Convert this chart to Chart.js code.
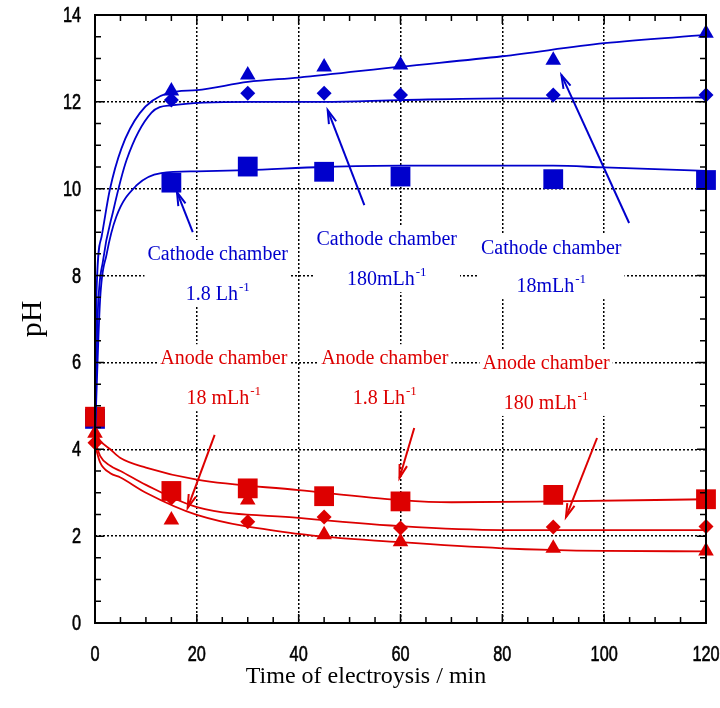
<!DOCTYPE html>
<html>
<head>
<meta charset="utf-8">
<title>pH vs time of electrolysis</title>
<script src="https://cdn.jsdelivr.net/npm/chart.js@4.4.1/dist/chart.umd.min.js"></script>
<style>
  html, body { margin: 0; padding: 0; background: #fff; }
  #wrap { width: 720px; height: 708px; }
</style>
</head>
<body>
<div id="wrap"><canvas id="phChart"></canvas></div>
<script>
// measured points (min, pH)
const sampleTimes = [0, 15, 30, 45, 60, 90, 120];
const cathodeTri = [4.7, 12.25, 12.62, 12.8, 12.85, 12.96, 13.58];
const cathodeDia = [4.7, 12.04, 12.2, 12.2, 12.16, 12.16, 12.16];
const cathodeSq  = [4.7, 10.14, 10.51, 10.39, 10.28, 10.22, 10.2];
const anodeSq    = [4.75, 3.04, 3.1, 2.92, 2.8, 2.95, 2.85];
const anodeDia   = [4.15, 2.88, 2.33, 2.44, 2.19, 2.21, 2.22];
const anodeTri   = [4.37, 2.37, 2.83, 2.03, 1.87, 1.72, 1.66];

// fitted curves
const cathodeTriFitT = [0, 0.3, 1.3, 2.9, 5.2, 8.8, 14.3, 20, 30, 40, 60, 80, 100, 120];
const cathodeTriFit  = [4.4, 7.6, 8.9, 9.97, 10.93, 11.74, 12.2, 12.27, 12.46, 12.56, 12.81, 13.05, 13.35, 13.54];
const cathodeDiaFitT = [0, 0.5, 1.6, 3.6, 6.2, 11.1, 15, 30, 45, 60, 80, 100, 120];
const cathodeDiaFit  = [4.3, 7.0, 8.36, 9.5, 10.66, 11.75, 11.92, 12.0, 12.0, 12.04, 12.08, 12.08, 12.1];
const cathodeSqFitT  = [0, 1, 2.3, 4.2, 8.2, 13, 20, 30, 45, 60, 90, 100, 120];
const cathodeSqFit   = [4.3, 7.44, 8.5, 9.36, 10.08, 10.36, 10.4, 10.43, 10.5, 10.53, 10.53, 10.49, 10.41];
const anodeSqFitT    = [0, 1, 3, 5, 10, 20, 40, 60, 70, 90, 120];
const anodeSqFit     = [4.4, 4.2, 4.0, 3.8, 3.58, 3.3, 3.06, 2.83, 2.78, 2.8, 2.85];
const anodeDiaFitT   = [0, 1, 3, 5, 10, 20, 40, 60, 80, 120];
const anodeDiaFit    = [4.2, 3.85, 3.62, 3.5, 3.18, 2.67, 2.42, 2.23, 2.14, 2.14];
const anodeTriFitT   = [0, 1, 3, 5, 10, 20, 40, 60, 80, 100, 120];
const anodeTriFit    = [4.1, 3.7, 3.45, 3.35, 3.0, 2.49, 2.05, 1.86, 1.72, 1.66, 1.65];

const xTitle = 'Time of electroysis / min';
const yTitle = 'pH';

const BLUE = '#0000cc';
const RED = '#dd0000';
const SERIF = '"Liberation Serif", "Times New Roman", serif';
const TICK_FONT = '22px "Liberation Sans", Arial, sans-serif';

// callouts: text centre (x, y line1, y line2) and arrow tail -> tip, in data units
const notes = [
  { color: BLUE, at: [24.1, 8.52, 7.6],  lines: [['Cathode chamber'], ['1.8 Lh', '-1']],  arrow: [19.2, 9.0, 16.1, 9.92] },
  { color: BLUE, at: [57.3, 8.86, 7.94], lines: [['Cathode chamber'], ['180mLh', '-1']],  arrow: [52.9, 9.62, 45.7, 11.81] },
  { color: BLUE, at: [89.6, 8.66, 7.78], lines: [['Cathode chamber'], ['18mLh', '-1']],   arrow: [104.9, 9.21, 91.6, 12.62] },
  { color: RED,  at: [25.3, 6.12, 5.2],  lines: [['Anode chamber'], ['18 mLh', '-1']],    arrow: [23.5, 4.33, 18.2, 2.65] },
  { color: RED,  at: [56.9, 6.12, 5.2],  lines: [['Anode chamber'], ['1.8 Lh', '-1']],    arrow: [62.7, 4.49, 59.8, 3.34] },
  { color: RED,  at: [88.6, 6.0, 5.09],  lines: [['Anode chamber'], ['180 mLh', '-1']],   arrow: [98.6, 4.26, 92.5, 2.44] }
];

const pts = (xs, ys) => xs.map((x, i) => ({ x: x, y: ys[i] }));

function markers(ys, color, style, radius) {
  return {
    data: pts(sampleTimes, ys),
    showLine: false,
    pointStyle: style,
    pointRadius: radius,
    pointBackgroundColor: color,
    pointBorderColor: color,
    pointBorderWidth: 0,
    clip: false
  };
}

function fit(xs, ys, color) {
  return {
    data: pts(xs, ys),
    showLine: true,
    borderColor: color,
    borderWidth: 1.8,
    pointRadius: 0,
    cubicInterpolationMode: 'monotone',
    clip: false
  };
}

const MAIN_FONT = '20px ' + SERIF;
const SUP_FONT = '13px ' + SERIF;

function measureLine(ctx, parts) {
  ctx.font = MAIN_FONT;
  let w = ctx.measureText(parts[0]).width;
  if (parts[1]) { ctx.font = SUP_FONT; w += ctx.measureText(parts[1]).width + 1; }
  return w;
}

function drawLine(ctx, parts, cx, cy, color) {
  const w = measureLine(ctx, parts);
  let x = cx - w / 2;
  ctx.fillStyle = color;
  ctx.textAlign = 'left';
  ctx.textBaseline = 'alphabetic';
  ctx.font = MAIN_FONT;
  ctx.fillText(parts[0], x, cy + 7);
  if (parts[1]) {
    x += ctx.measureText(parts[0]).width + 1;
    ctx.font = SUP_FONT;
    ctx.fillText(parts[1], x, cy - 2);
  }
}

function drawArrow(ctx, x1, y1, x2, y2, color) {
  const ang = Math.atan2(y2 - y1, x2 - x1);
  const head = 14, spread = 0.28;
  ctx.strokeStyle = color;
  ctx.lineWidth = 2;
  ctx.setLineDash([]);
  ctx.beginPath(); ctx.moveTo(x1, y1); ctx.lineTo(x2, y2); ctx.stroke();
  ctx.beginPath();
  ctx.moveTo(x2 - head * Math.cos(ang - spread), y2 - head * Math.sin(ang - spread));
  ctx.lineTo(x2, y2);
  ctx.lineTo(x2 - head * Math.cos(ang + spread), y2 - head * Math.sin(ang + spread));
  ctx.stroke();
}

// narrow tick digits like the original (horizontally squeezed sans)
function narrowText(ctx, text, x, y, align) {
  ctx.save();
  ctx.font = TICK_FONT;
  ctx.textAlign = align;
  ctx.textBaseline = 'middle';
  ctx.translate(x, y);
  ctx.scale(0.74, 1);
  ctx.lineWidth = 0.6;
  ctx.strokeStyle = '#000';
  ctx.fillText(text, 0, 0);
  ctx.strokeText(text, 0, 0);
  ctx.restore();
}

const calloutPlugin = {
  id: 'callouts',
  beforeDatasetsDraw(chart) {
    const { ctx, scales: { x, y } } = chart;
    ctx.save();
    notes.forEach(n => {
      const cx = x.getPixelForValue(n.at[0]);
      const y1 = y.getPixelForValue(n.at[1]);
      const y2 = y.getPixelForValue(n.at[2]);
      const w = Math.max(...n.lines.map(l => measureLine(ctx, l))) + 6;
      ctx.fillStyle = '#fff';
      ctx.fillRect(cx - w / 2, y1 - 13, w, y2 - y1 + 27);
    });
    ctx.restore();
  },
  afterDatasetsDraw(chart) {
    const { ctx, scales: { x, y } } = chart;
    ctx.save();
    notes.forEach(n => {
      const cx = x.getPixelForValue(n.at[0]);
      drawLine(ctx, n.lines[0], cx, y.getPixelForValue(n.at[1]), n.color);
      drawLine(ctx, n.lines[1], cx, y.getPixelForValue(n.at[2]), n.color);
      const a = n.arrow;
      drawArrow(ctx, x.getPixelForValue(a[0]), y.getPixelForValue(a[1]),
                x.getPixelForValue(a[2]), y.getPixelForValue(a[3]), n.color);
    });
    ctx.restore();
  },
  afterDraw(chart) {
    const { ctx, chartArea: area, scales: { x, y } } = chart;
    ctx.save();
    ctx.strokeStyle = '#000';
    ctx.setLineDash([]);
    ctx.lineWidth = 2;
    ctx.strokeRect(area.left, area.top, area.right - area.left, area.bottom - area.top);
    ctx.lineWidth = 1.5;
    ctx.beginPath();
    for (let v = 0; v <= 120; v += 5) {
      const px = x.getPixelForValue(v);
      const len = v % 20 === 0 ? 9 : 6;
      ctx.moveTo(px, area.bottom); ctx.lineTo(px, area.bottom - len);
      ctx.moveTo(px, area.top); ctx.lineTo(px, area.top + len);
    }
    for (let v = 0; v <= 14; v += 0.5) {
      const py = y.getPixelForValue(v);
      const len = v % 2 === 0 ? 9 : 6;
      ctx.moveTo(area.left, py); ctx.lineTo(area.left + len, py);
      ctx.moveTo(area.right, py); ctx.lineTo(area.right - len, py);
    }
    ctx.stroke();

    // tick labels
    ctx.fillStyle = '#000';
    x.ticks.forEach(t => narrowText(ctx, String(t.value), x.getPixelForValue(t.value), area.bottom + 32, 'center'));
    y.ticks.forEach(t => narrowText(ctx, String(t.value), area.left - 14, y.getPixelForValue(t.value) + 1, 'right'));

    // axis titles
    ctx.textAlign = 'center';
    ctx.textBaseline = 'alphabetic';
    ctx.font = '24px ' + SERIF;
    ctx.fillText(xTitle, area.left + 271, area.bottom + 60);
    ctx.translate(33, (area.top + area.bottom) / 2);
    ctx.rotate(-Math.PI / 2);
    ctx.textBaseline = 'middle';
    ctx.font = '30px ' + SERIF;
    ctx.fillText(yTitle, 0, 0);
    ctx.restore();
  }
};

const edgeGrid = (lo, hi) => c => (c.tick && (c.tick.value === lo || c.tick.value === hi)) ? 'rgba(0,0,0,0)' : '#000';

function fixBox(w, h) {
  return scale => {
    if (w) scale.width = w;
    if (h) scale.height = h;
    scale.paddingLeft = 0; scale.paddingRight = 0;
    scale.paddingTop = 0; scale.paddingBottom = 0;
  };
}

new Chart(document.getElementById('phChart'), {
  type: 'scatter',
  data: {
    datasets: [
      fit(cathodeTriFitT, cathodeTriFit, BLUE),
      fit(cathodeDiaFitT, cathodeDiaFit, BLUE),
      fit(cathodeSqFitT, cathodeSqFit, BLUE),
      markers(anodeSq, RED, 'rect', 14),
      markers(anodeDia, RED, 'rectRot', 7.5),
      markers(anodeTri, RED, 'triangle', 9),
      markers(cathodeSq, BLUE, 'rect', 14),
      markers(cathodeDia, BLUE, 'rectRot', 7.5),
      markers(cathodeTri, BLUE, 'triangle', 9),
      fit(anodeSqFitT, anodeSqFit, RED),
      fit(anodeDiaFitT, anodeDiaFit, RED),
      fit(anodeTriFitT, anodeTriFit, RED)
    ]
  },
  options: {
    responsive: true,
    maintainAspectRatio: false,
    animation: false,
    events: [],
    layout: { padding: { top: 15, right: 13, left: 0, bottom: 0 } },
    plugins: { legend: { display: false }, tooltip: { enabled: false } },
    scales: {
      x: {
        type: 'linear', min: 0, max: 120,
        afterFit: fixBox(0, 85),
        ticks: { stepSize: 20, display: false },
        grid: { color: edgeGrid(0, 120), lineWidth: 1.5, drawTicks: false },
        border: { display: false, dash: [2, 2] }
      },
      y: {
        type: 'linear', min: 0, max: 14,
        afterFit: fixBox(95, 0),
        ticks: { stepSize: 2, display: false },
        grid: { color: edgeGrid(0, 14), lineWidth: 1.5, drawTicks: false },
        border: { display: false, dash: [2, 2] }
      }
    }
  },
  plugins: [calloutPlugin]
});
</script>
</body>
</html>
